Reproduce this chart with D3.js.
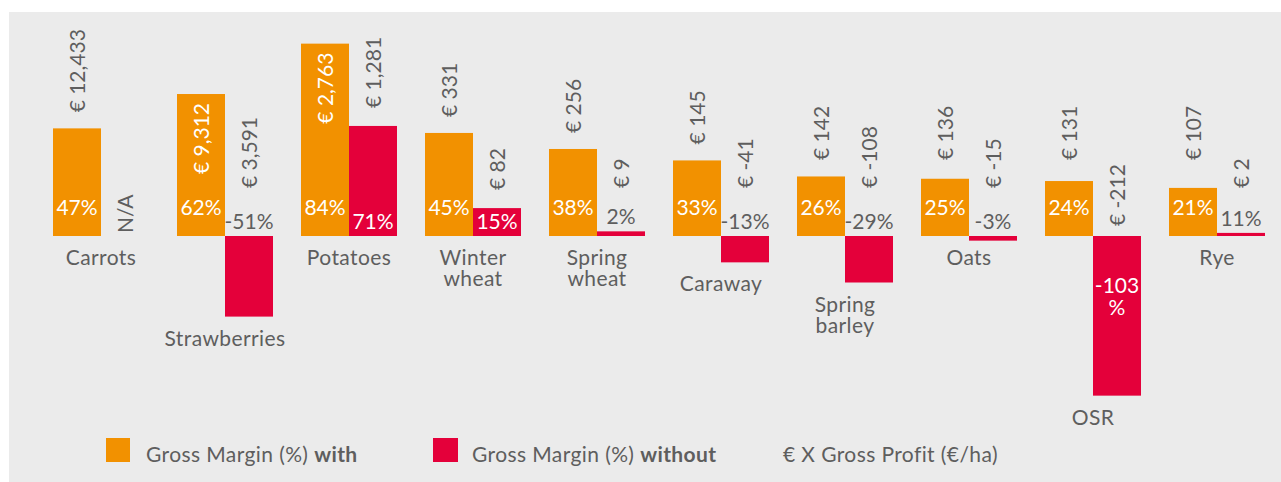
<!DOCTYPE html>
<html>
<head>
<meta charset="utf-8">
<script src="https://cdn.jsdelivr.net/npm/d3@7"></script>
<style>
  html, body { margin: 0; padding: 0; background: #ffffff; }
  svg { display: block; }
  text { font-family: Lato, "Open Sans", sans-serif; }
</style>
</head>
<body>
<svg id="chart" width="1281" height="482"></svg>
<script>
// ---- data ----
const categories = ["Carrots", "Strawberries", "Potatoes", "Winter wheat", "Spring wheat",
                    "Caraway", "Spring barley", "Oats", "OSR", "Rye"];
// Gross Margin (%) with – bar values and labels
const withPct = [47, 62, 84, 45, 38, 33, 26, 25, 24, 21];
// Gross Margin (%) without – printed labels
const withoutPct = [null, -51, 71, 15, 2, -13, -29, -3, -103, 11];
// Gross Margin (%) without – bar heights as drawn in the reference
const withoutBar = [null, -52, 71, 18, 3, -17, -30, -3, -103, 2];
// Gross profit (€/ha)
const withProfit = [12433, 9312, 2763, 331, 256, 145, 142, 136, 131, 107];
const withoutProfit = [null, 3591, 1281, 82, 9, -41, -108, -15, -212, 2];
const legendLabels = [
  { text: "Gross Margin (%) ", bold: "with" },
  { text: "Gross Margin (%) ", bold: "without" },
  { text: "€ X Gross Profit (€/ha)", bold: "" }
];

// ---- styles ----
const ORANGE = "#f29100", RED = "#e4003a", BG = "#ebebeb", GREY = "#5e5e5e";
const FS = 21;

const svg = d3.select("#chart");
svg.append("rect").attr("x", 9).attr("y", 12).attr("width", 1272).attr("height", 470).attr("fill", BG);

const zeroY = 236;
const x = d3.scaleBand().domain(categories).range([53, 1265]).paddingInner(28 / 124).paddingOuter(0);
const barW = x.bandwidth() / 2;
const yWith = d3.scaleLinear().domain([0, 100]).range([zeroY, zeroY - 229]);
const yWithout = d3.scaleLinear().domain([0, 100]).range([zeroY, zeroY - 155]);

const loc = d3.formatLocale({ decimal: ".", thousands: ",", grouping: [3], currency: ["€", ""], minus: "-" });
const fmt = loc.format(",");
const euro = v => v == null ? "N/A" : "€ " + fmt(v);
const pct = v => loc.format("d")(v) + "%";

const rows = categories.map((c, i) => ({
  c, w: withPct[i], wo: withoutPct[i], woBar: withoutBar[i], wp: withProfit[i], wop: withoutProfit[i]
}));

const g = svg.append("g");

// orange bars
g.selectAll("rect.with").data(rows).join("rect")
  .attr("class", "with")
  .attr("x", d => x(d.c)).attr("width", barW)
  .attr("y", d => yWith(d.w)).attr("height", d => zeroY - yWith(d.w))
  .attr("fill", ORANGE);

// red bars
g.selectAll("rect.without").data(rows.filter(d => d.woBar != null)).join("rect")
  .attr("class", "without")
  .attr("x", d => x(d.c) + barW).attr("width", barW)
  .attr("y", d => Math.min(yWithout(d.woBar), zeroY))
  .attr("height", d => Math.abs(yWithout(d.woBar) - zeroY))
  .attr("fill", RED);

// orange % labels
g.selectAll("text.wpct").data(rows).join("text")
  .attr("class", "wpct")
  .attr("x", d => x(d.c) + barW / 2).attr("y", zeroY - 21)
  .attr("text-anchor", "middle").attr("font-size", FS).attr("fill", "#ffffff")
  .text(d => pct(d.w));

// orange € labels (rotated)
g.selectAll("text.wp").data(rows).join("text")
  .attr("class", "wp")
  .attr("transform", d => {
    const top = yWith(d.w), h = zeroY - top;
    const bottom = h > 120 ? top + 80 : Math.min(top - 16, 160);
    return `translate(${x(d.c) + barW / 2},${bottom}) rotate(-90)`;
  })
  .attr("dy", "0.36em")
  .attr("font-size", FS).attr("text-anchor", "start")
  .attr("fill", d => (zeroY - yWith(d.w)) > 120 ? "#ffffff" : GREY)
  .text(d => euro(d.wp));

// red % labels
rows.forEach(d => {
  if (d.wo == null) return;
  const cx = x(d.c) + barW * 1.5;
  const yb = yWithout(d.woBar);
  const h = Math.abs(yb - zeroY);
  const t = g.append("text").attr("text-anchor", "middle").attr("font-size", FS);
  if (d.wo > 0 && h > 20) {
    t.attr("x", cx).attr("y", zeroY - 7).attr("fill", "#ffffff").text(pct(d.wo));
  } else if (d.wo < 0 && h > 100) {
    t.attr("fill", "#ffffff");
    t.append("tspan").attr("x", cx).attr("y", zeroY + 57).text(loc.format("d")(d.wo));
    t.append("tspan").attr("x", cx).attr("y", zeroY + 79).text("%");
  } else {
    t.attr("x", cx).attr("y", Math.min(zeroY, yb) - 7).attr("fill", GREY).text(pct(d.wo));
  }
});

// red € labels (rotated)
rows.forEach(d => {
  const cx = x(d.c) + barW * 1.5;
  let bottom;
  if (d.woBar == null) bottom = zeroY - 3;
  else {
    const yb = yWithout(d.woBar), h = Math.abs(yb - zeroY);
    if (d.woBar > 0 && h > 20) bottom = yb - 18;
    else if (d.woBar < 0 && h > 100) bottom = zeroY - 10;
    else bottom = 188;
  }
  g.append("text")
    .attr("transform", `translate(${cx},${bottom}) rotate(-90)`)
    .attr("dy", "0.36em").attr("font-size", FS).attr("fill", GREY)
    .text(euro(d.wop));
});

// category labels
rows.forEach(d => {
  const redBottom = d.woBar == null ? zeroY : Math.max(zeroY, yWithout(d.woBar));
  const y0 = (redBottom - zeroY) < 10 ? zeroY + 29 : redBottom + 29;
  const t = g.append("text").attr("text-anchor", "middle").attr("font-size", FS)
    .attr("letter-spacing", "0.4px").attr("fill", GREY);
  d.c.split(" ").forEach((line, k) => {
    t.append("tspan").attr("x", x(d.c) + barW).attr("y", y0 + k * 21).text(line);
  });
});

// legend
const legendItems = [
  { sq: { x: 106, w: 24, color: ORANGE }, tx: 146, lab: legendLabels[0] },
  { sq: { x: 433, w: 25, color: RED }, tx: 472, lab: legendLabels[1] },
  { sq: null, tx: 783, lab: legendLabels[2] }
];
legendItems.forEach(it => {
  if (it.sq) {
    svg.append("rect").attr("x", it.sq.x).attr("y", 438).attr("width", it.sq.w).attr("height", 24).attr("fill", it.sq.color);
  }
  const t = svg.append("text").attr("x", it.tx).attr("y", 462).attr("font-size", FS)
    .attr("letter-spacing", "0.4px").attr("fill", GREY);
  t.append("tspan").text(it.lab.text);
  if (it.lab.bold) t.append("tspan").attr("font-weight", 700).text(it.lab.bold);
});
</script>
</body>
</html>
